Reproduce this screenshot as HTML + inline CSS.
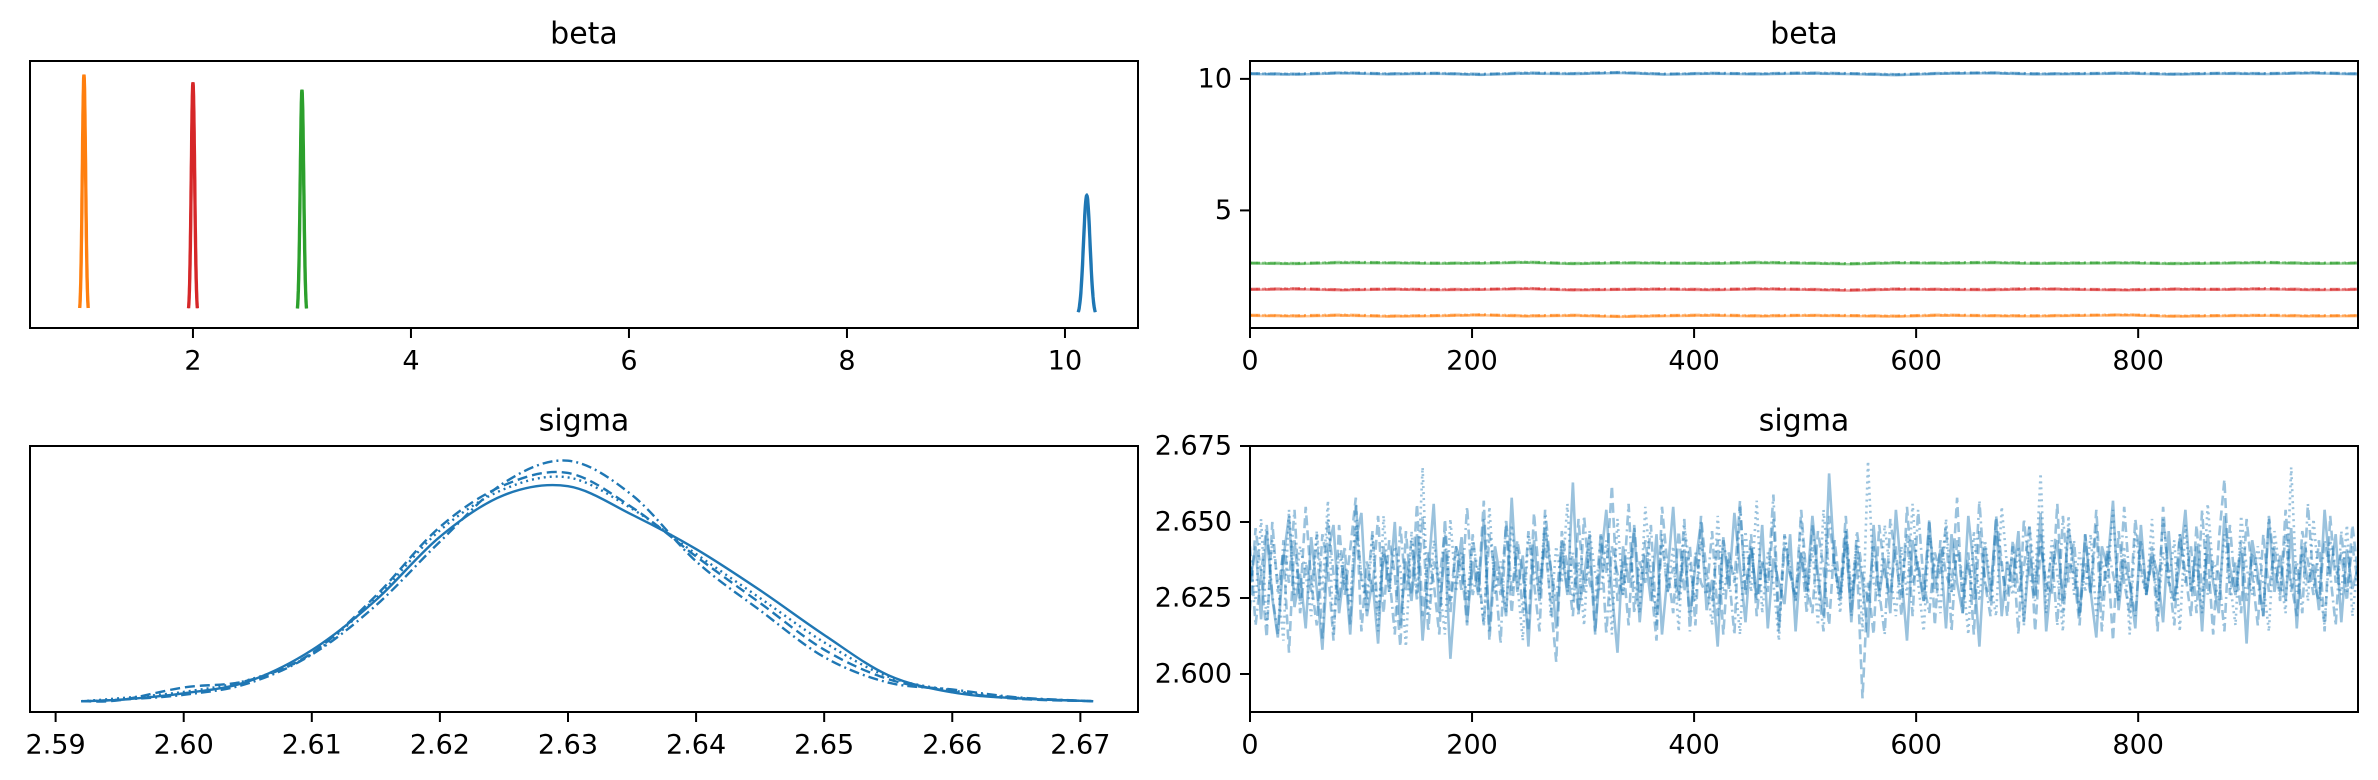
<!DOCTYPE html>
<html><head><meta charset="utf-8"><style>
html,body{margin:0;padding:0;background:#fff;}
svg{display:block;font-family:"DejaVu Sans","Liberation Sans",sans-serif;}
</style></head><body>
<svg id="fig" width="2378" height="780" viewBox="0 0 2378 780" xmlns="http://www.w3.org/2000/svg"></svg>
<script>
// ---- data ----
const betaMeans = [1.0, 2.0, 3.0, 10.2];
const betaSds = [0.015, 0.0155, 0.016, 0.03];
const betaColors = ["#ff7f0e", "#d62728", "#2ca02c", "#1f77b4"];
const betaXTicks = [2, 4, 6, 8, 10];
const betaTraceYTicks = [5, 10];
const iterTicks = [0, 200, 400, 600, 800];
const betaTrace1 = [1.01,0.99,1.02,0.98,1.00,1.03,0.99,1.01,0.97,1.00,1.02,0.99,1.01,1.00,0.98,1.02,1.00,0.99,1.01,1.03,0.98,1.00,1.01,0.99,1.00];
const betaTrace2 = [2.00,2.02,1.98,2.01,1.99,2.00,2.03,1.98,2.00,2.01,1.99,2.02,2.00,1.97,2.01,2.00,1.99,2.02,2.00,1.98,2.01,2.00,2.02,1.99,2.00];
const betaTrace3 = [3.00,2.98,3.02,3.01,2.99,3.00,3.03,2.98,3.01,3.00,2.99,3.02,3.00,2.97,3.01,3.00,3.02,2.99,3.00,3.01,2.98,3.00,3.02,2.99,3.00];
const betaTrace10 = [10.20,10.18,10.23,10.19,10.21,10.17,10.22,10.20,10.24,10.18,10.21,10.19,10.22,10.20,10.16,10.21,10.23,10.19,10.20,10.22,10.18,10.21,10.20,10.23,10.19];
// sigma KDE per chain on grid
const sigmaGrid = [2.592,2.595,2.600,2.605,2.610,2.615,2.620,2.625,2.630,2.635,2.640,2.645,2.650,2.655,2.660,2.665,2.671];
const sigmaKde0 = [0,0.3,1.6,4.0,10.4,20.6,33.5,42.0,43.8,38.0,31.0,22.6,13.5,5.3,1.8,0.6,0];
const sigmaKde1 = [0,0.2,2.8,4.2,9.8,21.5,35.5,44.0,46.5,39.5,29.5,20.0,10.5,4.5,2.0,0.5,0];
const sigmaKde2 = [0,0.6,1.9,4.3,9.6,21.0,34.8,43.2,45.6,39.2,30.0,21.0,12.0,5.0,2.2,0.7,0];
const sigmaKde3 = [0,0.3,1.3,3.6,9.5,19.5,32.5,44.5,49.0,42.0,28.5,18.5,9.0,3.8,2.4,0.8,0];
const sigmaXTicks = [2.59,2.60,2.61,2.62,2.63,2.64,2.65,2.66,2.67];
const sigmaYTicks = [2.600,2.625,2.650,2.675];
// sigma trace per chain, value = 2.600 + v/1000, one value every 5 draws
const sigmaChain0 = [30,42,18,47,25,12,38,52,22,33,15,45,28,8,40,49,20,36,13,44,53,19,31,10,42,27,50,16,37,24,46,11,33,56,20,41,5,30,45,17,37,26,51,14,42,31,19,58,27,39,9,44,24,48,35,15,41,26,63,21,32,46,14,37,54,27,7,42,30,48,17,39,24,46,13,33,55,26,41,19,36,50,21,31,9,45,28,53,35,17,42,26,49,15,38,30,23,46,14,40,27,52,33,19,66,36,24,47,17,42,30,12,49,26,38,20,54,33,11,44,35,24,50,28,41,15,46,30,20,52,35,9,42,26,51,19,37,30,47,17,40,26,53,14,33,44,24,48,36,19,46,27,12,42,35,57,21,38,30,15,49,26,40,33,17,47,24,36,54,27,42,14,46,30,20,52,35,26,41,10,44,33,19,51,27,39,24,48,15,42,30,36,21,54,33,46,17,41,28,35];
const sigmaChain1 = [21,48,33,12,50,27,40,7,44,24,55,30,16,46,35,11,49,26,41,58,14,37,27,52,20,44,33,9,47,26,56,19,40,30,13,51,24,42,35,16,46,27,57,11,37,26,49,20,44,33,14,53,30,42,24,4,47,35,19,51,27,40,13,46,33,62,24,37,16,49,26,44,30,11,55,35,20,47,27,42,16,52,33,24,44,13,40,30,57,26,46,19,37,27,51,14,42,33,24,54,30,20,47,35,16,44,27,52,24,37,-8,30,13,49,33,26,42,19,55,30,37,24,51,16,44,33,27,58,20,40,13,47,30,24,52,37,19,44,27,35,49,14,42,30,26,56,20,37,33,16,46,27,54,24,40,11,47,30,20,51,35,26,42,14,55,30,24,46,33,19,49,27,40,13,44,64,26,37,20,51,33,16,46,27,42,24,54,30,19,47,37,26,44,14,52,30,40,24,49,33];
const sigmaChain2 = [37,24,51,16,44,30,11,54,26,42,33,19,47,27,57,13,40,30,24,49,33,20,46,14,52,27,42,35,9,47,26,68,19,44,30,13,51,27,40,24,44,33,16,55,26,37,20,49,30,11,46,35,26,52,19,42,30,56,24,37,16,47,33,27,44,13,51,26,40,30,20,55,33,19,46,27,42,14,49,35,24,44,30,16,52,26,37,33,13,47,27,57,20,40,30,11,46,35,24,51,26,42,16,54,33,37,20,47,27,44,14,70,30,24,49,33,19,42,26,56,30,14,46,35,20,51,27,40,33,13,47,24,44,30,19,55,35,26,42,16,49,30,66,20,44,33,14,52,26,40,27,46,19,37,30,54,24,42,13,47,33,26,51,19,40,30,44,14,49,27,37,20,56,33,24,46,30,16,52,35,26,42,30,14,47,33,20,68,27,40,24,51,30,16,44,35,26,49,19,37];
const sigmaChain3 = [42,16,33,49,26,13,44,30,54,20,37,27,46,11,51,33,24,42,16,56,30,26,47,19,40,33,13,49,27,44,24,52,14,37,30,47,20,42,27,55,26,35,16,46,33,10,51,27,42,20,47,30,14,54,35,24,44,27,40,19,52,30,24,46,13,42,33,26,56,20,37,30,49,16,44,27,35,24,51,14,40,30,26,47,19,44,33,13,55,27,42,24,37,30,59,16,46,33,26,40,20,49,30,14,52,35,26,44,19,47,33,24,42,27,13,51,37,26,46,19,54,30,20,40,33,49,14,44,27,37,24,57,30,19,47,35,26,42,13,51,33,24,46,27,40,16,52,30,44,20,37,26,49,14,42,33,24,55,30,19,44,27,37,24,51,33,16,46,30,42,20,54,26,37,33,14,49,27,44,24,40,30,19,52,35,26,46,27,37,20,56,30,24,44,33,16,47,27,42,30];

// ---- helpers ----
const NS = "http://www.w3.org/2000/svg";
const svg = document.getElementById("fig");
function mk(tag, attrs, parent) {
  const e = document.createElementNS(NS, tag);
  for (const k in attrs) e.setAttribute(k, attrs[k]);
  (parent || svg).appendChild(e);
  return e;
}
function lin(d0, d1, r0, r1) { return v => r0 + (v - d0) * (r1 - r0) / (d1 - d0); }
const dashes = ["", "10,5", "2,4", "10,4,2,4"];

const L = {x0: 30, x1: 1138}, R = {x0: 1250, x1: 2358};
const T = {y0: 61, y1: 328}, B = {y0: 446, y1: 712};

function frame(px, py, name) {
  const r = mk("rect", {x: px.x0, y: py.y0, width: px.x1 - px.x0, height: py.y1 - py.y0, fill: "none", stroke: "#000", "stroke-width": 2});
  
  
}
function title(cx, cy, txt, name) {
  const t = mk("text", {x: cx, y: cy, "font-size": 30, "text-anchor": "middle", "dominant-baseline": "central", fill: "#000"});
  t.textContent = txt;
  
  
}
function xticks(ticks, sx, yb, fmt, name) {
  const g = mk("g", {});
  
  
  ticks.forEach(v => {
    const x = sx(v);
    mk("line", {x1: x, x2: x, y1: yb, y2: yb + 10, stroke: "#000", "stroke-width": 2}, g);
    const t = mk("text", {x: x, y: yb + 33, "font-size": 27, "text-anchor": "middle", "dominant-baseline": "central"}, g);
    t.textContent = fmt(v);
  });
}
function yticks(ticks, sy, xl, fmt, name) {
  const g = mk("g", {});
  
  
  ticks.forEach(v => {
    const y = sy(v);
    mk("line", {x1: xl - 10, x2: xl, y1: y, y2: y, stroke: "#000", "stroke-width": 2}, g);
    const t = mk("text", {x: xl - 18, y: y, "font-size": 27, "text-anchor": "end", "dominant-baseline": "central"}, g);
    t.textContent = fmt(v);
  });
}
function poly(pts, attrs, name, parent) {
  const p = mk("path", Object.assign({d: "M" + pts.map(p => p[0].toFixed(1) + "," + p[1].toFixed(1)).join("L"), fill: "none"}, attrs), parent);
  
  
  return p;
}

const defs = mk("defs", {});
[["cTL", L, T], ["cTR", R, T], ["cBL", L, B], ["cBR", R, B]].forEach(([id, px, py]) => {
  const c = mk("clipPath", {id: id}, defs);
  mk("rect", {x: px.x0, y: py.y0, width: px.x1 - px.x0, height: py.y1 - py.y0}, c);
});

// ---- top-left: beta density ----
{
  const sx = lin(0.505, 10.67, L.x0, L.x1);
  const sy = lin(-1.3, 28.1, T.y1, T.y0);
  const g = mk("g", {"clip-path": "url(#cTL)"});
  
  
  betaMeans.forEach((m, i) => {
    const s = betaSds[i];
    [-0.004, 0.004].forEach((off, k) => {
      const pts = [];
      for (let j = 0; j <= 60; j++) {
        const x = m + off + (-2.6 + 5.2 * j / 60) * s;
        const z = (x - m - off) / s;
        pts.push([sx(x), sy(Math.exp(-0.5 * z * z) / (s * Math.sqrt(2 * Math.PI)))]);
      }
      poly(pts, {stroke: betaColors[i], "stroke-width": 2.5}, "beta-density-" + i + "-chain-" + k, g);
    });
  });
  frame(L, T, "beta-density-axes");
  xticks(betaXTicks, sx, T.y1, v => String(v), "beta-density-x-ticks");
  title((L.x0 + L.x1) / 2, 34, "beta", "beta-density-title");
}

// ---- top-right: beta trace ----
{
  const sx = lin(0, 998, R.x0, R.x1);
  const sy = lin(0.53, 10.68, T.y1, T.y0);
  const g = mk("g", {"clip-path": "url(#cTR)"});
  
  
  const series = [betaTrace1, betaTrace2, betaTrace3, betaTrace10];
  series.forEach((arr, i) => {
    dashes.forEach((d, c) => {
      const pts = arr.map((v, j) => [sx(j * 998 / (arr.length - 1)), sy(v + (c - 1.5) * 0.012)]);
      poly(pts, {stroke: betaColors[i], "stroke-width": 2.5, "stroke-opacity": 0.45, "stroke-dasharray": d}, "beta-trace-" + i + "-chain-" + c, g);
    });
  });
  frame(R, T, "beta-trace-axes");
  xticks(iterTicks, sx, T.y1, v => String(v), "beta-trace-x-ticks");
  yticks(betaTraceYTicks, sy, R.x0, v => String(v), "beta-trace-y-ticks");
  title((R.x0 + R.x1) / 2, 34, "beta", "beta-trace-title");
}

// ---- bottom-left: sigma density ----
{
  const sx = lin(2.588, 2.6745, L.x0, L.x1);
  const sy = lin(-2.2, 52, B.y1, B.y0);
  const g = mk("g", {"clip-path": "url(#cBL)"});
  
  
  [sigmaKde0, sigmaKde1, sigmaKde2, sigmaKde3].forEach((arr, c) => {
    const P = arr.map((v, j) => [sx(sigmaGrid[j]), sy(v)]);
    let d = "M" + P[0][0] + "," + P[0][1];
    for (let j = 0; j < P.length - 1; j++) {
      const p0 = P[Math.max(0, j - 1)], p1 = P[j], p2 = P[j + 1], p3 = P[Math.min(P.length - 1, j + 2)];
      const c1 = [p1[0] + (p2[0] - p0[0]) / 6, p1[1] + (p2[1] - p0[1]) / 6];
      const c2 = [p2[0] - (p3[0] - p1[0]) / 6, p2[1] - (p3[1] - p1[1]) / 6];
      d += "C" + c1.join(",") + " " + c2.join(",") + " " + p2.join(",");
    }
    const p = mk("path", {d: d, fill: "none", stroke: "#1f77b4", "stroke-width": 2.4, "stroke-dasharray": dashes[c]}, g);
    
    
  });
  frame(L, B, "sigma-density-axes");
  xticks(sigmaXTicks, sx, B.y1, v => v.toFixed(2), "sigma-density-x-ticks");
  title((L.x0 + L.x1) / 2, 421, "sigma", "sigma-density-title");
}

// ---- bottom-right: sigma trace ----
{
  const sx = lin(0, 998, R.x0, R.x1);
  const sy = lin(2.5875, 2.675, B.y1, B.y0);
  const g = mk("g", {"clip-path": "url(#cBR)"});
  
  
  [sigmaChain0, sigmaChain1, sigmaChain2, sigmaChain3].forEach((arr, c) => {
    const pts = arr.map((v, j) => [sx(j * 998 / (arr.length - 1)), sy(2.6 + v / 1000)]);
    poly(pts, {stroke: "#1f77b4", "stroke-width": 2.6, "stroke-opacity": 0.45, "stroke-dasharray": dashes[c]}, "sigma-trace-chain-" + c, g);
  });
  frame(R, B, "sigma-trace-axes");
  xticks(iterTicks, sx, B.y1, v => String(v), "sigma-trace-x-ticks");
  yticks(sigmaYTicks, sy, R.x0, v => v.toFixed(3), "sigma-trace-y-ticks");
  title((R.x0 + R.x1) / 2, 421, "sigma", "sigma-trace-title");
}
</script>
</body></html>
